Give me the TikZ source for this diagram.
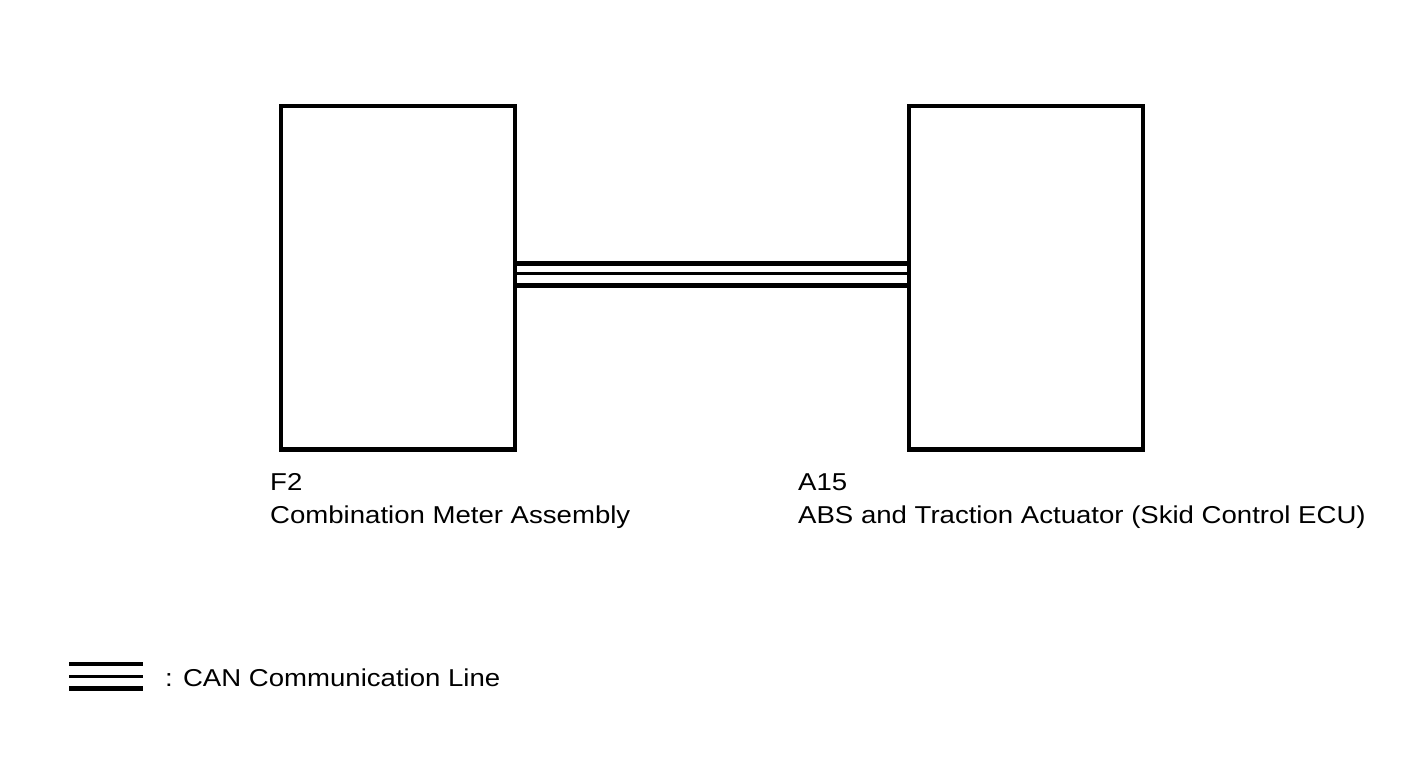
\documentclass[tikz,border=0pt]{standalone}
\usepackage{fontspec}
\setmainfont[FakeStretch=1.13]{Liberation Sans}
\usetikzlibrary{positioning}
\tikzset{
  unitbox/.style={draw, line width=4.5pt, minimum width=234pt, minimum height=343.5pt, inner sep=0pt},
  outerwire/.style={line width=5pt},
  innerwire/.style={line width=3pt},
  label text/.style={anchor=base west, inner sep=0pt, font=\fontsize{24.4}{33}\selectfont}
}
\begin{document}
\begin{tikzpicture}[x=1pt, y=-1pt]
            \useasboundingbox (0,0) rectangle (1424,759);
            % Steuergeraete
            \node [unitbox] (meter) at (398,277.75) {};
            \node [unitbox] (abs)   at (1026,277.75) {};
            % Beschriftungen
            \node [label text] (meterid)   at (270,490.7) {F2};
            \node [label text] (metername) at (270,523.5) {Combination Meter Assembly};
            \node [label text] (absid)     at (798,490.7) {A15};
            \node [label text] (absname)   at (798,523.5) {ABS and Traction Actuator (Skid Control ECU)};
            % CAN-Leitung
            \draw [outerwire] ([yshift=14.25pt]meter.east) -- ([yshift=14.25pt]abs.west);
            \draw [innerwire] ([yshift=3.75pt]meter.east)  -- ([yshift=3.75pt]abs.west);
            \draw [outerwire] ([yshift=-8.25pt]meter.east) -- ([yshift=-8.25pt]abs.west);
            % Legende
            \coordinate (keyA) at (69,663.5);
            \coordinate (keyB) at (143,663.5);
            \draw [line width=4pt]   (keyA) -- (keyB);
            \draw [innerwire]        ([yshift=-13pt]keyA) -- ([yshift=-13pt]keyB);
            \draw [line width=4.5pt] ([yshift=-25pt]keyA) -- ([yshift=-25pt]keyB);
            \node [label text] (keytext) at (165,686) {: CAN Communication Line};
        \end{tikzpicture}
\end{document}
